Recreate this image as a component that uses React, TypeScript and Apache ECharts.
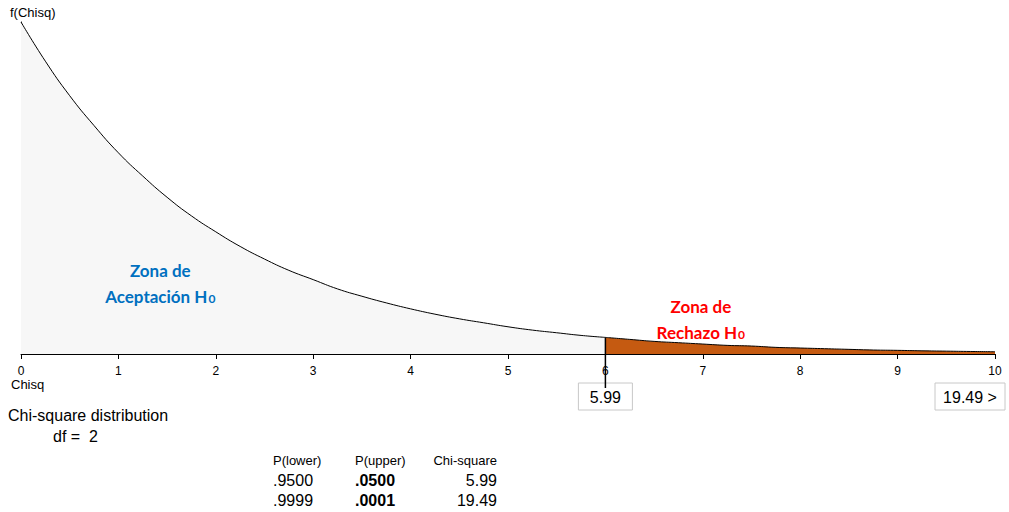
import React, { useEffect, useRef } from "react";
import * as echarts from "echarts";

const accX = [0, 0.25, 0.5, 0.75, 1, 1.25, 1.5, 1.75, 2, 2.25, 2.5, 2.75, 3, 3.25, 3.5, 3.75, 4, 4.25, 4.5, 4.75, 5, 5.25, 5.5, 5.75, 6];
const accY = [0.5, 0.441, 0.389, 0.344, 0.303, 0.268, 0.236, 0.208, 0.184, 0.162, 0.143, 0.126, 0.112, 0.098, 0.087, 0.077, 0.068, 0.06, 0.053, 0.047, 0.041, 0.036, 0.032, 0.028, 0.025];
const rejX = [6, 6.25, 6.5, 6.75, 7, 7.25, 7.5, 7.75, 8, 8.25, 8.5, 8.75, 9, 9.25, 9.5, 9.75, 10];
const rejY = [0.025, 0.022, 0.019, 0.017, 0.015, 0.013, 0.012, 0.01, 0.009, 0.008, 0.007, 0.006, 0.0055, 0.0048, 0.0043, 0.0038, 0.0034];
const critical = 5.99;
const critAxis = 6;
const extreme = "19.49 >";
const tableHeaders = ["P(lower)", "P(upper)", "Chi-square"];
const tableRows = [
  [".9500", ".0500", "5.99"],
  [".9999", ".0001", "19.49"],
];

const FONT = "Liberation Sans, Arial, sans-serif";
const ZFONT = "Lato, Open Sans, sans-serif";

export default function App() {
  const ref = useRef<HTMLDivElement>(null);
  useEffect(() => {
    const chart = echarts.init(ref.current!, null, { renderer: "svg" });
    const option: any = {
      animation: false,
      grid: { left: 21, right: 14, top: 22, bottom: 158 },
      xAxis: {
        type: "value",
        min: 0,
        max: 10,
        interval: 1,
        axisLine: { lineStyle: { color: "#000", width: 1 } },
        axisTick: { show: true, length: 5, lineStyle: { color: "#000" } },
        axisLabel: { color: "#000", fontSize: 12, fontFamily: FONT, margin: 11, showMinLabel: true, showMaxLabel: true },
        splitLine: { show: false },
      },
      yAxis: {
        type: "value",
        min: 0,
        max: 0.5,
        axisLine: { show: true, lineStyle: { color: "#000", width: 1 } },
        axisTick: { show: false },
        axisLabel: { show: false },
        splitLine: { show: false },
      },
      series: [
        {
          type: "line",
          data: accX.map((x, i) => [x, accY[i]]),
          smooth: true,
          symbol: "none",
          lineStyle: { color: "#000", width: 1 },
          areaStyle: { color: "#f7f7f7", opacity: 1 },
          z: 2,
        },
        {
          type: "line",
          data: rejX.map((x, i) => [x, rejY[i]]),
          smooth: true,
          symbol: "none",
          lineStyle: { color: "#000", width: 1 },
          areaStyle: { color: "#c55a11", opacity: 1 },
          z: 2,
        },
      ],
    };
    chart.setOption(option);

    const [x6, yCurve] = chart.convertToPixel({ gridIndex: 0 }, [critAxis, accY[accY.length - 1]]);
    const [, y0] = chart.convertToPixel({ gridIndex: 0 }, [critAxis, 0]);
    const [x10] = chart.convertToPixel({ gridIndex: 0 }, [10, 0]);
    const [xZ1] = chart.convertToPixel({ gridIndex: 0 }, [1.43, 0]);
    const [xZ2] = chart.convertToPixel({ gridIndex: 0 }, [6.98, 0]);

    const rich = (color: string) => ({
      t: { fontFamily: ZFONT, fontWeight: "bold", fontSize: 17, fill: color, lineHeight: 26, verticalAlign: "middle" },
      s: { fontFamily: ZFONT, fontWeight: "bold", fontSize: 12, fill: color, lineHeight: 26, verticalAlign: "middle", padding: [5, 0, 0, 1] },
    });

    const graphic: any[] = [
      { type: "text", left: 10, top: 6, style: { text: "f(Chisq)", fontSize: 13, fontFamily: FONT, fill: "#000" } },
      { type: "text", left: 11, top: y0 + 24, style: { text: "Chisq", fontSize: 13, fontFamily: FONT, fill: "#000" } },
      { type: "line", shape: { x1: x6, y1: yCurve, x2: x6, y2: y0 + 34 }, style: { stroke: "#000", lineWidth: 1.5 }, z: 10 },
      {
        type: "group", x: x6 - 27, y: y0 + 29, z: 11,
        children: [
          { type: "rect", shape: { x: 0, y: 0, width: 54, height: 27 }, style: { fill: "#fff", stroke: "#c8c8c8", lineWidth: 1 } },
          { type: "text", x: 27, y: 14, style: { text: String(critical), fontSize: 16, fontFamily: FONT, fill: "#000", align: "center", verticalAlign: "middle" } },
        ],
      },
      {
        type: "group", x: x10 - 60, y: y0 + 29, z: 11,
        children: [
          { type: "rect", shape: { x: 0, y: 0, width: 70, height: 27 }, style: { fill: "#fff", stroke: "#c8c8c8", lineWidth: 1 } },
          { type: "text", x: 35, y: 14, style: { text: extreme, fontSize: 16, fontFamily: FONT, fill: "#000", align: "center", verticalAlign: "middle" } },
        ],
      },
      {
        type: "text", x: xZ1, y: 257, z: 12,
        style: { text: "{t|Zona de}\n{t|Aceptación H}{s|0}", align: "center", rich: rich("#0070c0") },
      },
      {
        type: "text", x: xZ2, y: 293, z: 12,
        style: { text: "{t|Zona de}\n{t|Rechazo H}{s|0}", align: "center", rich: rich("#ff0000") },
      },
      { type: "text", left: 8, top: 407, style: { text: "Chi-square distribution", fontSize: 16, fontFamily: FONT, fill: "#000" } },
      { type: "text", left: 53, top: 428, style: { text: "df =  2", fontSize: 16, fontFamily: FONT, fill: "#000" } },
    ];
    const colLeft = [273, 355];
    const colRight = 497;
    tableHeaders.forEach((h, i) => {
      graphic.push({
        type: "text", x: i < 2 ? colLeft[i] : colRight, y: 460,
        style: { text: h, fontSize: 13, fontFamily: FONT, fill: "#000", align: i < 2 ? "left" : "right", verticalAlign: "middle" },
      });
    });
    tableRows.forEach((row, r) => {
      row.forEach((v, i) => {
        graphic.push({
          type: "text", x: i < 2 ? colLeft[i] : colRight, y: 480 + r * 20,
          style: { text: v, fontSize: 16, fontFamily: FONT, fontWeight: i === 1 ? "bold" : "normal", fill: "#000", align: i < 2 ? "left" : "right", verticalAlign: "middle" },
        });
      });
    });
    chart.setOption({ graphic });
    return () => chart.dispose();
  }, []);
  return <div ref={ref} style={{ position: "absolute", left: 0, top: 0, width: 1009, height: 512, background: "#fff" }} />;
}
